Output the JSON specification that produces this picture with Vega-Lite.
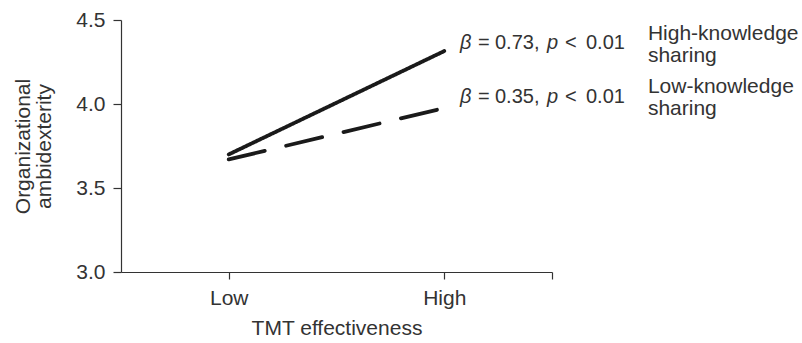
{
  "$schema": "https://vega.github.io/schema/vega-lite/v6.json",
  "width": 431,
  "height": 252,
  "autosize": {"type": "none"},
  "padding": {"left": 121, "top": 20, "right": 250, "bottom": 71},
  "background": "white",
  "config": {
    "view": {"stroke": null},
    "font": "Liberation Sans",
    "axis": {
      "labelFont": "Liberation Sans",
      "titleFont": "Liberation Sans",
      "labelFontSize": 21,
      "titleFontSize": 21,
      "titleFontWeight": "normal",
      "labelColor": "#333",
      "titleColor": "#333",
      "domainColor": "#333",
      "tickColor": "#333",
      "domainWidth": 1.2,
      "tickWidth": 1.2,
      "grid": false
    }
  },
  "datasets": {
    "lines": [
      {"tmt": 1, "group": "High-knowledge sharing", "value": 3.70},
      {"tmt": 3, "group": "High-knowledge sharing", "value": 4.315},
      {"tmt": 1, "group": "Low-knowledge sharing", "value": 3.67},
      {"tmt": 3, "group": "Low-knowledge sharing", "value": 3.976}
    ],
    "ann": [
      {"group": "High-knowledge sharing", "ax": 3.146, "ay": 4.327, "beta": "0.73,", "lx": 4.89, "ly": 4.381, "label": ["High-knowledge", "sharing"]},
      {"group": "Low-knowledge sharing", "ax": 3.146, "ay": 4.006, "beta": "0.35,", "lx": 4.89, "ly": 4.065, "label": ["Low-knowledge", "sharing"]}
    ]
  },
  "layer": [
    {
      "data": {"name": "lines"},
      "mark": {"type": "line", "strokeWidth": 3.8, "strokeCap": "round", "color": "#1a1a1a", "clip": false},
      "encoding": {
        "x": {
          "field": "tmt", "type": "quantitative",
          "scale": {"domain": [0, 4], "nice": false, "zero": false},
          "axis": {
            "title": "TMT effectiveness",
            "values": [1, 3, 4],
            "labelExpr": "datum.value == 1 ? 'Low' : datum.value == 3 ? 'High' : ''",
            "tickSize": 7,
            "labelPadding": 8,
            "titlePadding": 9
          }
        },
        "y": {
          "field": "value", "type": "quantitative",
          "scale": {"domain": [3, 4.5], "nice": false, "zero": false},
          "axis": {
            "title": ["Organizational", "ambidexterity"],
            "values": [3, 3.5, 4, 4.5],
            "format": ".1f",
            "tickSize": 8,
            "labelPadding": 8,
            "titlePadding": 21,
            "titleLineHeight": 21
          }
        },
        "detail": {"field": "group"},
        "strokeDash": {
          "field": "group", "type": "nominal",
          "scale": {"domain": ["High-knowledge sharing", "Low-knowledge sharing"], "range": [[1, 0], [37, 22]]},
          "legend": null
        }
      }
    },
    {
      "data": {"name": "ann"},
      "mark": {"type": "text", "text": "β", "fontStyle": "italic", "fontSize": 20, "align": "left", "baseline": "alphabetic", "color": "#333", "font": "Liberation Sans"},
      "encoding": {"x": {"field": "ax", "type": "quantitative"}, "y": {"field": "ay", "type": "quantitative"}}
    },
    {
      "data": {"name": "ann"},
      "mark": {"type": "text", "text": "=", "fontSize": 20, "align": "left", "baseline": "alphabetic", "dx": 18, "color": "#333", "font": "Liberation Sans"},
      "encoding": {"x": {"field": "ax", "type": "quantitative"}, "y": {"field": "ay", "type": "quantitative"}}
    },
    {
      "data": {"name": "ann"},
      "mark": {"type": "text", "fontSize": 20, "align": "left", "baseline": "alphabetic", "dx": 35, "color": "#333", "font": "Liberation Sans"},
      "encoding": {"x": {"field": "ax", "type": "quantitative"}, "y": {"field": "ay", "type": "quantitative"}, "text": {"field": "beta"}}
    },
    {
      "data": {"name": "ann"},
      "mark": {"type": "text", "text": "p", "fontStyle": "italic", "fontSize": 20, "align": "left", "baseline": "alphabetic", "dx": 87, "color": "#333", "font": "Liberation Sans"},
      "encoding": {"x": {"field": "ax", "type": "quantitative"}, "y": {"field": "ay", "type": "quantitative"}}
    },
    {
      "data": {"name": "ann"},
      "mark": {"type": "text", "text": "<", "fontSize": 20, "align": "left", "baseline": "alphabetic", "dx": 105, "color": "#333", "font": "Liberation Sans"},
      "encoding": {"x": {"field": "ax", "type": "quantitative"}, "y": {"field": "ay", "type": "quantitative"}}
    },
    {
      "data": {"name": "ann"},
      "mark": {"type": "text", "text": "0.01", "fontSize": 20, "align": "left", "baseline": "alphabetic", "dx": 126, "color": "#333", "font": "Liberation Sans"},
      "encoding": {"x": {"field": "ax", "type": "quantitative"}, "y": {"field": "ay", "type": "quantitative"}}
    },
    {
      "data": {"name": "ann"},
      "mark": {"type": "text", "fontSize": 21, "align": "left", "baseline": "alphabetic", "lineHeight": 22, "color": "#333", "font": "Liberation Sans"},
      "encoding": {"x": {"field": "lx", "type": "quantitative"}, "y": {"field": "ly", "type": "quantitative"}, "text": {"field": "label"}}
    }
  ]
}
